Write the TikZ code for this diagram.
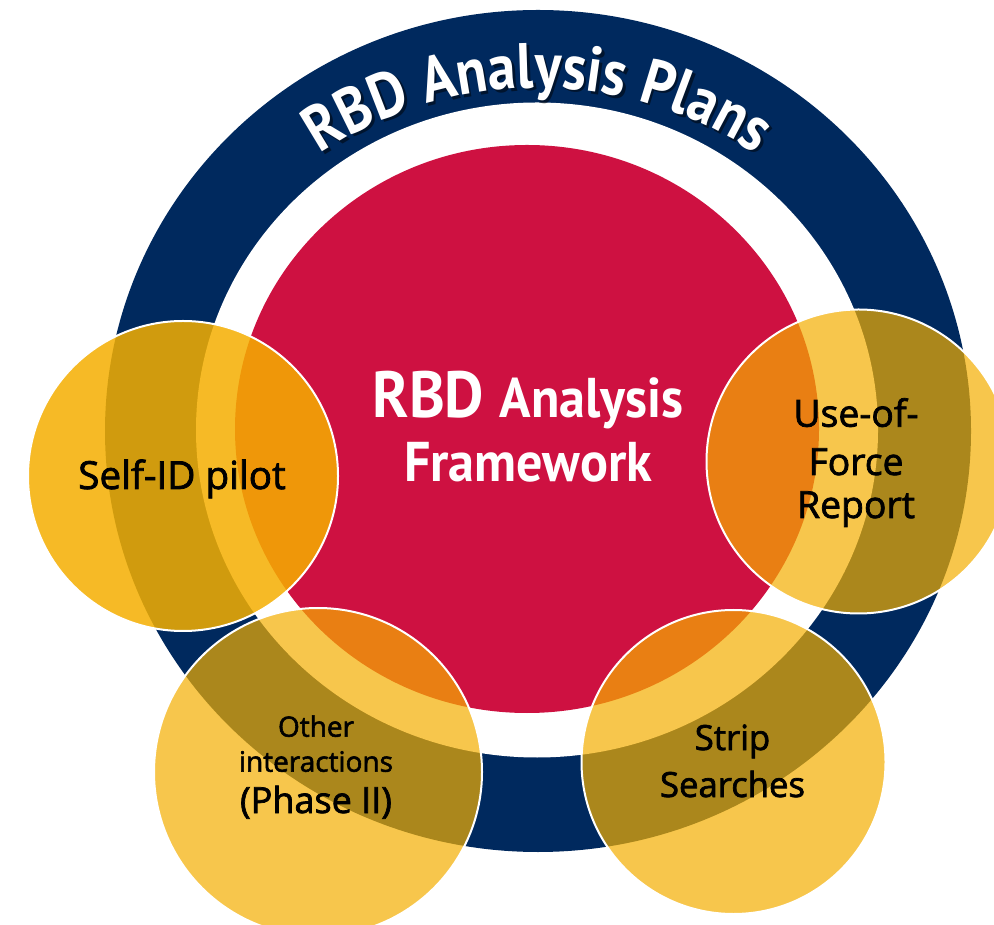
\documentclass[tikz,border=0pt]{standalone}
\usepackage{fontspec}
\setmainfont{Open Sans}
\newfontfamily\dinfont{PT Sans}[FakeStretch=0.88]
\newfontfamily\dincenter{PT Sans}[FakeStretch=0.93]
\newfontfamily\labelfont{Open Sans}[FakeBold=2]
\usetikzlibrary{decorations.text}
\definecolor{ringnavy}{RGB}{0,41,94}
\definecolor{corered}{RGB}{206,17,65}
\definecolor{petalgold}{RGB}{245,175,0}
\newcommand\titlefont{\dinfont\bfseries\fontsize{48}{48}\selectfont}
\newcommand\rbdbig{\dincenter\bfseries\fontsize{49}{49}\selectfont}
\newcommand\rbdsmall{\dincenter\bfseries\fontsize{42}{42}\selectfont}
\newcommand\lblsize[1]{\labelfont\fontsize{#1}{#1}\selectfont}
\tikzset{
  petal/.style={fill=petalgold, fill opacity=0.7, draw=white, line width=1.5},
  petalstrong/.style={petal, fill opacity=0.85},
  centertext/.style={text=white, inner sep=0pt, anchor=base},
  petaltext/.style={text=black, inner sep=0pt, anchor=base}
}
\begin{document}
\begin{tikzpicture}[x=0.75pt,y=0.75pt]
\useasboundingbox (0,0) rectangle (994,924);
\fill[white] (0,0) rectangle (994,924);
% rings
\fill[ringnavy] (538,493) ellipse [x radius=433, y radius=421];
\fill[white] (537,494) ellipse [x radius=341, y radius=327.5];
\fill[corered] (527,495) ellipse [x radius=292, y radius=284];
% curved title with shadow
\coordinate (arcc) at (538,443);
\begin{scope}[opacity=0.5]
\path[decorate, decoration={text along path, text align=center, text color=black,
  text={|\titlefont|RBD Analysis Plans}}]
  ([shift={(2.5,-2.5)}]arcc) ++(150:393) arc[start angle=150, end angle=30, radius=393];
\end{scope}
\path[decorate, decoration={text along path, text align=center, text color=white,
  text={|\titlefont|RBD Analysis Plans}}]
  (arcc) ++(150:393) arc[start angle=150, end angle=30, radius=393];
% centre text
\node[centertext] (fw1) at (528,506) {\rbdbig RBD \rbdsmall Analysis};
\node[centertext] (fw2) at (528,442.3) {\rbdsmall Framework};
% petals
\fill[petalstrong] (183,448) circle [radius=155];
\fill[petal] (858.5,462.5) circle [radius=152];
\fill[petal] (318,152) circle [radius=164];
\fill[petal] (733.5,162) circle [radius=152];
% petal labels
\node[petaltext, font=\lblsize{29}] (sid) at (182,435) {Self-ID pilot};
\node[petaltext, font=\lblsize{28}] (uof1) at (856,497.3) {Use-of-};
\node[petaltext, font=\lblsize{28}] (uof2) at (856,449) {Force};
\node[petaltext, font=\lblsize{28}] (uof3) at (856,406) {Report};
\node[petaltext, font=\lblsize{21}] (oth1) at (316,187.3) {Other};
\node[petaltext, font=\lblsize{21}] (oth2) at (316,152.3) {interactions};
\node[petaltext, font=\lblsize{27}] (oth3) at (316,111) {(Phase II)};
\node[petaltext, font=\lblsize{26}] (str1) at (732.5,174) {Strip};
\node[petaltext, font=\lblsize{26}] (str2) at (732.5,127) {Searches};
\end{tikzpicture}
\end{document}
